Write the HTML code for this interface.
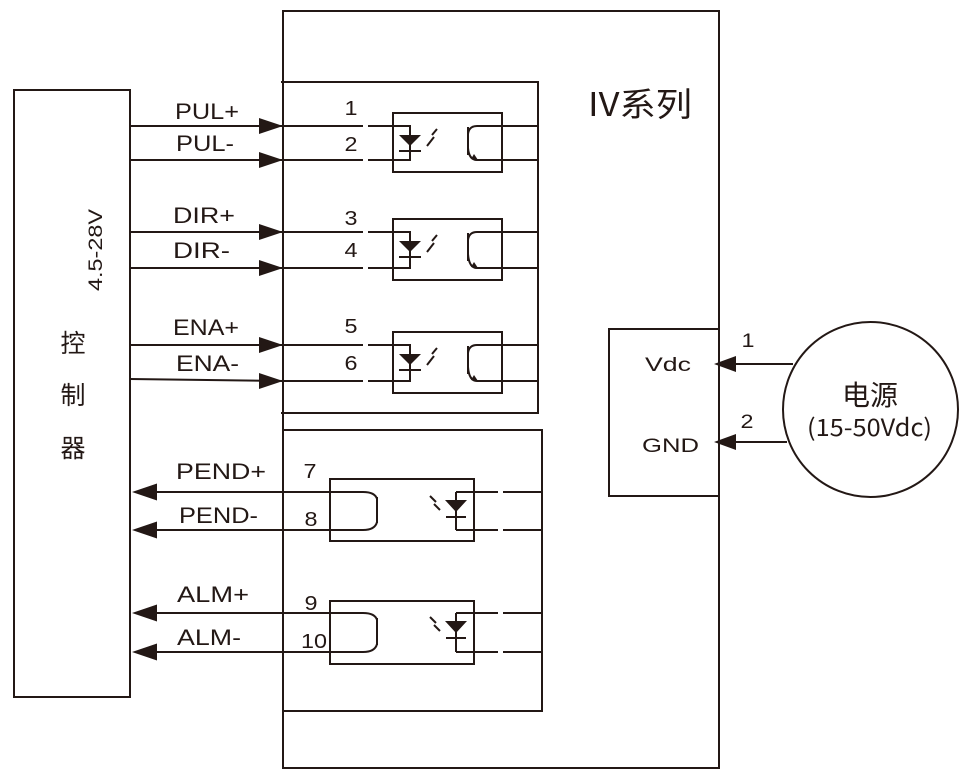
<!DOCTYPE html>
<html>
<head>
<meta charset="utf-8">
<style>
  html, body { margin:0; padding:0; background:#ffffff; }
  svg { display:block; }
  .ln { stroke:#231815; stroke-width:2; fill:none; }
  .fl { fill:#231815; stroke:none; }
  .t { font-family:"Liberation Sans", "Noto Sans CJK SC", sans-serif; fill:#231815; }
  .c { font-family:"Noto Sans CJK SC", "WenQuanYi Zen Hei", sans-serif; fill:#231815; }
</style>
</head>
<body>
<svg width="971" height="779" viewBox="0 0 971 779" xmlns="http://www.w3.org/2000/svg">
  <rect x="0" y="0" width="971" height="779" fill="#ffffff"/>

  <!-- Controller box -->
  <rect class="ln" x="14" y="90" width="116" height="607"/>
  <text class="t" font-size="19.5" text-anchor="middle" textLength="82" lengthAdjust="spacingAndGlyphs" transform="translate(102,250) rotate(-90)" x="0" y="0">4.5-28V</text>
  <text class="c" font-size="25" text-anchor="middle" x="73" y="352">控</text>
  <text class="c" font-size="25" text-anchor="middle" x="73" y="404">制</text>
  <text class="c" font-size="25" text-anchor="middle" x="73" y="457">器</text>

  <!-- Main driver box -->
  <rect class="ln" x="283" y="11" width="436" height="757"/>
  <text class="c" font-size="33" x="588" y="116" textLength="104" lengthAdjust="spacingAndGlyphs">IV系列</text>

  <!-- Inner top box -->
  <path class="ln" d="M281,82 H538 V413 H281"/>
  <!-- Inner bottom box -->
  <path class="ln" d="M283,430 H542 V711 H283"/>

  <!-- ===== PUL opto ===== -->
  <rect class="ln" x="393" y="113" width="109" height="59"/>
  <path class="ln" d="M130,126 H363 M368,126 H410 V160 H368 M363,160 H130"/>
  <polygon class="fl" points="399,135 421,135 410,146"/>
  <path class="ln" d="M399,151 H421"/>
  <path class="ln" d="M427,146 L434,137 M432,135 L437,129"/>
  <path class="ln" d="M468,127 V155 M477,126 Q469,126 468,134 M468,148 Q469,160 477,160 M477,126 H538 M477,160 H538"/>
  <polygon class="fl" points="478,160 471,159 474,154"/>

  <!-- ===== DIR opto ===== -->
  <rect class="ln" x="393" y="219" width="109" height="61"/>
  <path class="ln" d="M130,232 H363 M368,232 H410 V268 H368 M363,268 H130"/>
  <polygon class="fl" points="399,241 421,241 410,252"/>
  <path class="ln" d="M399,257 H421"/>
  <path class="ln" d="M427,252 L434,243 M432,241 L437,235"/>
  <path class="ln" d="M468,233 V261 M477,232 Q469,232 468,240 M468,254 Q469,268 477,268 M477,232 H538 M477,268 H538"/>
  <polygon class="fl" points="478,268 471,267 474,262"/>

  <!-- ===== ENA opto ===== -->
  <rect class="ln" x="393" y="332" width="109" height="61"/>
  <path class="ln" d="M130,345 H363 M368,345 H410 V381 H368 M363,381 H283 L130,379"/>
  <polygon class="fl" points="399,354 421,354 410,365"/>
  <path class="ln" d="M399,370 H421"/>
  <path class="ln" d="M427,365 L434,356 M432,354 L437,348"/>
  <path class="ln" d="M468,346 V374 M477,345 Q469,345 468,353 M468,367 Q469,381 477,381 M477,345 H538 M477,381 H538"/>
  <polygon class="fl" points="478,381 471,380 474,375"/>

  <!-- Right-pointing input arrowheads -->
  <polygon class="fl" points="259,118 283,126 259,134"/>
  <polygon class="fl" points="259,152 283,160 259,168"/>
  <polygon class="fl" points="259,224 283,232 259,240"/>
  <polygon class="fl" points="259,260 283,268 259,276"/>
  <polygon class="fl" points="259,337 283,345 259,353"/>
  <polygon class="fl" points="259,373 283,381 259,389"/>

  <!-- Input labels -->
  <text class="t" font-size="22" x="175" y="119" textLength="64" lengthAdjust="spacingAndGlyphs">PUL+</text>
  <text class="t" font-size="22" x="176" y="151" textLength="58" lengthAdjust="spacingAndGlyphs">PUL-</text>
  <text class="t" font-size="22" x="173" y="223" textLength="62" lengthAdjust="spacingAndGlyphs">DIR+</text>
  <text class="t" font-size="22" x="173" y="258" textLength="57" lengthAdjust="spacingAndGlyphs">DIR-</text>
  <text class="t" font-size="22" x="173" y="335" textLength="66" lengthAdjust="spacingAndGlyphs">ENA+</text>
  <text class="t" font-size="22" x="176" y="371" textLength="63" lengthAdjust="spacingAndGlyphs">ENA-</text>

  <!-- Pin numbers top -->
  <text class="t" font-size="20" text-anchor="middle" x="351" y="115" textLength="13" lengthAdjust="spacingAndGlyphs">1</text>
  <text class="t" font-size="20" text-anchor="middle" x="351" y="151" textLength="13" lengthAdjust="spacingAndGlyphs">2</text>
  <text class="t" font-size="20" text-anchor="middle" x="351" y="225" textLength="13" lengthAdjust="spacingAndGlyphs">3</text>
  <text class="t" font-size="20" text-anchor="middle" x="351" y="257" textLength="13" lengthAdjust="spacingAndGlyphs">4</text>
  <text class="t" font-size="20" text-anchor="middle" x="351" y="333" textLength="13" lengthAdjust="spacingAndGlyphs">5</text>
  <text class="t" font-size="20" text-anchor="middle" x="351" y="370" textLength="13" lengthAdjust="spacingAndGlyphs">6</text>

  <!-- ===== PEND opto ===== -->
  <rect class="ln" x="330" y="479" width="144" height="62"/>
  <path class="ln" d="M140,492 H363 Q375,492 377,499 M377,497 V523 M377,522 Q375,530 363,530 H140"/>
  <path class="ln" d="M456,492 V530 M456,492 H498 M503,492 H542 M456,530 H498 M503,530 H542"/>
  <polygon class="fl" points="445,500 467,500 456,512"/>
  <path class="ln" d="M446,517 H466"/>
  <path class="ln" d="M430,496 L436,502 M434,504 L440,510"/>

  <!-- ===== ALM opto ===== -->
  <rect class="ln" x="330" y="601" width="144" height="63"/>
  <path class="ln" d="M140,613 H363 Q375,613 377,620 M377,618 V645 M377,644 Q375,652 363,652 H140"/>
  <path class="ln" d="M456,613 V652 M456,613 H498 M503,613 H542 M456,652 H498 M503,652 H542"/>
  <polygon class="fl" points="445,621 467,621 456,633"/>
  <path class="ln" d="M446,638 H466"/>
  <path class="ln" d="M430,617 L436,623 M434,625 L440,631"/>

  <!-- Left-pointing output arrowheads -->
  <polygon class="fl" points="132,492 157,483.5 157,500.5"/>
  <polygon class="fl" points="132,530 157,521.5 157,538.5"/>
  <polygon class="fl" points="132,613 157,604.5 157,621.5"/>
  <polygon class="fl" points="132,652 157,643.5 157,660.5"/>

  <!-- Output labels -->
  <text class="t" font-size="22" x="176" y="479" textLength="90" lengthAdjust="spacingAndGlyphs">PEND+</text>
  <text class="t" font-size="22" x="179" y="523" textLength="79" lengthAdjust="spacingAndGlyphs">PEND-</text>
  <text class="t" font-size="22" x="177" y="602" textLength="72" lengthAdjust="spacingAndGlyphs">ALM+</text>
  <text class="t" font-size="22" x="177" y="645" textLength="64" lengthAdjust="spacingAndGlyphs">ALM-</text>

  <!-- Pin numbers bottom -->
  <text class="t" font-size="20" text-anchor="middle" x="310" y="478" textLength="13" lengthAdjust="spacingAndGlyphs">7</text>
  <text class="t" font-size="20" text-anchor="middle" x="311" y="526" textLength="13" lengthAdjust="spacingAndGlyphs">8</text>
  <text class="t" font-size="20" text-anchor="middle" x="311" y="610" textLength="13" lengthAdjust="spacingAndGlyphs">9</text>
  <text class="t" font-size="20" text-anchor="middle" x="314" y="648" textLength="26" lengthAdjust="spacingAndGlyphs">10</text>

  <!-- ===== Power section ===== -->
  <path class="ln" d="M719,329 H609 V496 H719"/>
  <text class="t" font-size="19.5" x="645" y="371" textLength="46" lengthAdjust="spacingAndGlyphs">Vdc</text>
  <text class="t" font-size="19.5" x="642" y="452" textLength="57" lengthAdjust="spacingAndGlyphs">GND</text>

  <path class="ln" d="M725,364 H793"/>
  <polygon class="fl" points="714,364 736,356 736,372"/>
  <path class="ln" d="M725,442 H787"/>
  <polygon class="fl" points="714,442 736,434 736,450"/>
  <text class="t" font-size="19" text-anchor="middle" x="748" y="347" textLength="13" lengthAdjust="spacingAndGlyphs">1</text>
  <text class="t" font-size="19" text-anchor="middle" x="747" y="428" textLength="13" lengthAdjust="spacingAndGlyphs">2</text>

  <circle class="ln" cx="870.5" cy="409.5" r="87.5"/>
  <text class="c" font-size="28" text-anchor="middle" x="870" y="405">电源</text>
  <text class="c" font-size="24" x="807" y="436" textLength="125" lengthAdjust="spacingAndGlyphs">(15-50Vdc)</text>
</svg>
</body>
</html>
